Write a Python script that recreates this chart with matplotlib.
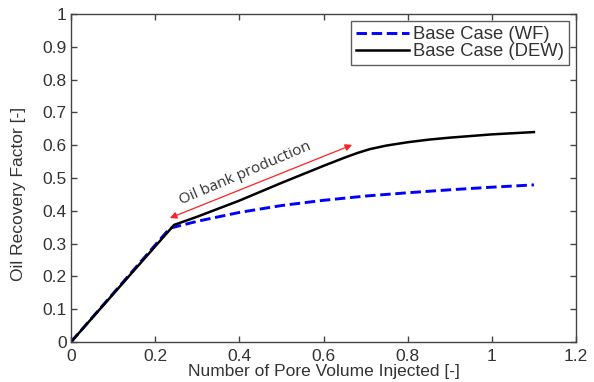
import matplotlib
matplotlib.use('Agg')
import matplotlib.pyplot as plt

# curves
pv_wf = [0.0, 0.235, 0.3, 0.37, 0.4, 0.5, 0.6, 0.7, 0.8, 0.9, 1.0, 1.1]
rf_wf = [0.0, 0.347, 0.368, 0.387, 0.395, 0.416, 0.432, 0.445, 0.455, 0.464, 0.472, 0.479]

pv_dew = [0.0, 0.245, 0.3, 0.4, 0.5, 0.6, 0.65, 0.68, 0.71, 0.75, 0.8, 0.85, 0.9, 1.0, 1.1]
rf_dew = [0.0, 0.357, 0.382, 0.431, 0.485, 0.537, 0.562, 0.576, 0.588, 0.599, 0.609, 0.617, 0.623, 0.633, 0.64]

xticks = [0, 0.2, 0.4, 0.6, 0.8, 1, 1.2]
xtick_labels = ['0', '0.2', '0.4', '0.6', '0.8', '1', '1.2']
yticks = [0, 0.1, 0.2, 0.3, 0.4, 0.5, 0.6, 0.7, 0.8, 0.9, 1]
ytick_labels = ['0', '0.1', '0.2', '0.3', '0.4', '0.5', '0.6', '0.7', '0.8', '0.9', '1']

plt.rcParams['font.family'] = ['Liberation Sans', 'DejaVu Sans']
grey = '#444444'
txt = '#333333'

fig = plt.figure(figsize=(5.94, 3.82), dpi=100)
ax = fig.add_axes([71/594, 1 - 342/382, 505/594, 328/382])

ax.plot(pv_wf, rf_wf, color='#0000ff', linestyle=(0, (3.6, 1.6)), linewidth=2.1,
        label='Base Case (WF)')
ax.plot(pv_dew, rf_dew, color='black', linewidth=1.8, label='Base Case (DEW)')

ax.set_xlim(0, 1.2)
ax.set_ylim(0, 1)
ax.set_xticks(xticks)
ax.set_xticklabels(xtick_labels)
ax.set_yticks(yticks)
ax.set_yticklabels(ytick_labels)
ax.tick_params(direction='in', top=True, right=True, length=4, width=1,
               colors=grey, labelsize=12.5, labelcolor=txt)
ax.tick_params(axis='x', pad=5)
ax.tick_params(axis='y', pad=3)
for s in ax.spines.values():
    s.set_color(grey)
    s.set_linewidth(1.0)

ax.set_xlabel('Number of Pore Volume Injected [-]', fontsize=12.5, color=txt)
ax.set_ylabel('Oil Recovery Factor [-]', fontsize=12.5, color=txt)
ax.xaxis.set_label_coords(0.5, -0.068)
ax.yaxis.set_label_coords(-0.09, 0.45)

# annotation
ax.annotate('', xy=(0.235, 0.378), xytext=(0.668, 0.601),
            arrowprops=dict(arrowstyle='<|-|>', color='#ff2020', lw=0.9,
                            mutation_scale=10, shrinkA=0, shrinkB=0))
ax.text(0.413, 0.515, 'Oil bank production', rotation=23, fontsize=11,
        family=['Open Sans', 'DejaVu Sans'], color=txt,
        ha='center', va='center', rotation_mode='anchor')

leg = ax.legend(loc='upper right', fontsize=13.3, frameon=True, fancybox=False,
                edgecolor=txt, borderpad=0.25, labelspacing=0.02,
                handlelength=2.9, handletextpad=0.2, borderaxespad=0.4)
leg.get_frame().set_linewidth(1.0)
for t in leg.get_texts():
    t.set_color(txt)

fig.savefig('out.png', dpi=100)
